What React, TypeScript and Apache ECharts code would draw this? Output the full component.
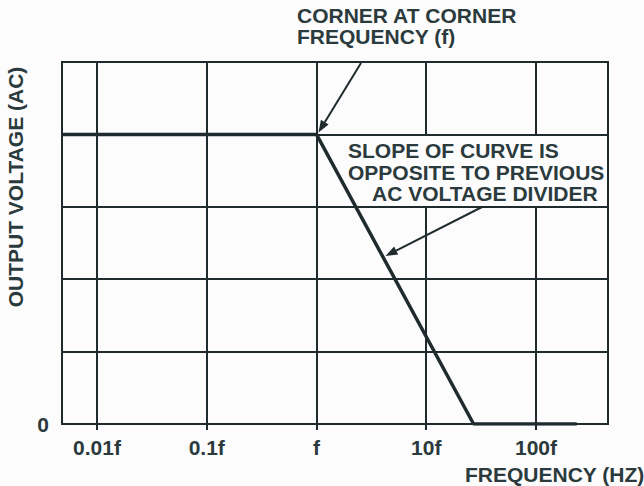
import React, { useEffect, useRef } from 'react';
import * as echarts from 'echarts';

// Frequency axis (log decades relative to corner frequency f)
const tickDecades = [-2, -1, 0, 1, 2];
const tickLabels = ['0.01f', '0.1f', 'f', '10f', '100f'];
const freqMin = 0.0048; // left edge of plot, in multiples of f
const freqMax = 453; // right edge of plot, in multiples of f

// Output voltage levels (arbitrary grid units)
const levelMin = 0;
const levelMax = 5;
const levelTicks = [1, 2, 3, 4];

// Curve (frequency in multiples of f, output level)
const curveFreq = [0.0048, 1, 27, 235];
const curveLevel = [4, 4, 0, 0];

const INK = '#1f2b2d';
const TEXT = '#2b3a3c';
const BG = '#fdfcfc';
const FONT = '"Liberation Sans", Arial, Helvetica, sans-serif';
const FSIZE = 21;
const FWEIGHT = 'bold';

function arrow(x1: number, y1: number, x2: number, y2: number) {
  const dx = x2 - x1;
  const dy = y2 - y1;
  const len = Math.sqrt(dx * dx + dy * dy);
  const ux = dx / len;
  const uy = dy / len;
  const headL = 12;
  const headW = 4.5;
  const bx = x2 - ux * headL;
  const by = y2 - uy * headL;
  return [
    {
      type: 'line',
      z: 120,
      shape: { x1, y1, x2: bx, y2: by },
      style: { stroke: INK, lineWidth: 2 },
    },
    {
      type: 'polygon',
      z: 120,
      shape: {
        points: [
          [x2, y2],
          [bx - uy * headW, by + ux * headW],
          [bx + uy * headW, by - ux * headW],
        ],
      },
      style: { fill: INK },
    },
  ];
}

export default function App() {
  const ref = useRef<HTMLDivElement>(null);
  useEffect(() => {
    if (!ref.current) return;
    const chart = echarts.init(ref.current, undefined, { renderer: 'svg' });
    const data = curveFreq.map((f, i) => [Math.log10(f), curveLevel[i]]);
    const labelStyle = {
      fontSize: FSIZE,
      fontWeight: FWEIGHT,
      fontFamily: FONT,
      color: TEXT,
    };
    chart.setOption({
      animation: false,
      backgroundColor: BG,
      grid: {
        left: 62,
        right: 36,
        top: 62,
        bottom: 62,
        show: true,
        borderColor: INK,
        borderWidth: 2,
        backgroundColor: 'transparent',
      },
      xAxis: {
        type: 'value',
        min: Math.log10(freqMin),
        max: Math.log10(freqMax),
        minInterval: 1,
        maxInterval: 1,
        axisLine: { show: true, lineStyle: { color: INK, width: 2 } },
        splitLine: { show: true, lineStyle: { color: INK, width: 2 } },
        axisTick: {
          show: true,
          length: 6,
          customValues: tickDecades,
          lineStyle: { color: INK, width: 2 },
        },
        axisLabel: {
          customValues: tickDecades,
          margin: 13,
          ...labelStyle,
          formatter: (v: number) => {
            const i = tickDecades.indexOf(Math.round(v));
            return Math.abs(v - Math.round(v)) < 1e-6 && i >= 0 ? tickLabels[i] : '';
          },
        },
      },
      yAxis: {
        type: 'value',
        min: levelMin,
        max: levelMax,
        interval: 1,
        axisLine: { show: true, lineStyle: { color: INK, width: 2 } },
        splitLine: { show: true, lineStyle: { color: INK, width: 2 } },
        axisTick: {
          show: true,
          length: 8,
          customValues: levelTicks,
          lineStyle: { color: INK, width: 2 },
        },
        axisLabel: {
          customValues: [0],
          margin: 13,
          ...labelStyle,
          formatter: (v: number) => (v === 0 ? '0' : ''),
        },
      },
      series: [
        {
          type: 'line',
          data,
          symbol: 'none',
          z: 5,
          lineStyle: { color: INK, width: 3.5 },
        },
      ],
    });

    const corner = chart.convertToPixel({ gridIndex: 0 }, [0, 4]) as number[];
    const bottom = chart.convertToPixel({ gridIndex: 0 }, [Math.log10(27), 0]) as number[];
    const t = 0.42;
    const tip2 = [corner[0] + t * (bottom[0] - corner[0]) + 3, corner[1] + t * (bottom[1] - corner[1])];

    const txt = (text: string, x: number, y: number) => ({
      type: 'text',
      z: 115,
      x,
      y,
      style: {
        text,
        fill: TEXT,
        font: `${FWEIGHT} ${FSIZE}px ${FONT}`,
        textAlign: 'left',
        textVerticalAlign: 'middle',
      },
    });

    chart.setOption({
      graphic: [
        {
          type: 'rect',
          z: 1,
          shape: { x: 344, y: 136, width: 261, height: 70 },
          style: { fill: BG },
        },
        txt('CORNER AT CORNER', 297, 15),
        txt('FREQUENCY (f)', 297, 36),
        txt('SLOPE OF CURVE IS', 348, 150),
        txt('OPPOSITE TO PREVIOUS', 348, 172),
        txt('AC VOLTAGE DIVIDER', 372, 193),
        txt('FREQUENCY (HZ)', 465, 474),
        {
          type: 'text',
          z: 115,
          x: 15,
          y: 187,
          rotation: Math.PI / 2,
          style: {
            text: 'OUTPUT VOLTAGE (AC)',
            fill: TEXT,
            font: `${FWEIGHT} ${FSIZE}px ${FONT}`,
            textAlign: 'center',
            textVerticalAlign: 'middle',
          },
        },
        ...arrow(361, 63, corner[0] + 2, corner[1] - 2),
        ...arrow(482, 207, tip2[0], tip2[1]),
      ],
    });
    return () => chart.dispose();
  }, []);
  return (
    <div
      ref={ref}
      style={{ position: 'fixed', left: 0, top: 0, width: 644, height: 486 }}
    />
  );
}
